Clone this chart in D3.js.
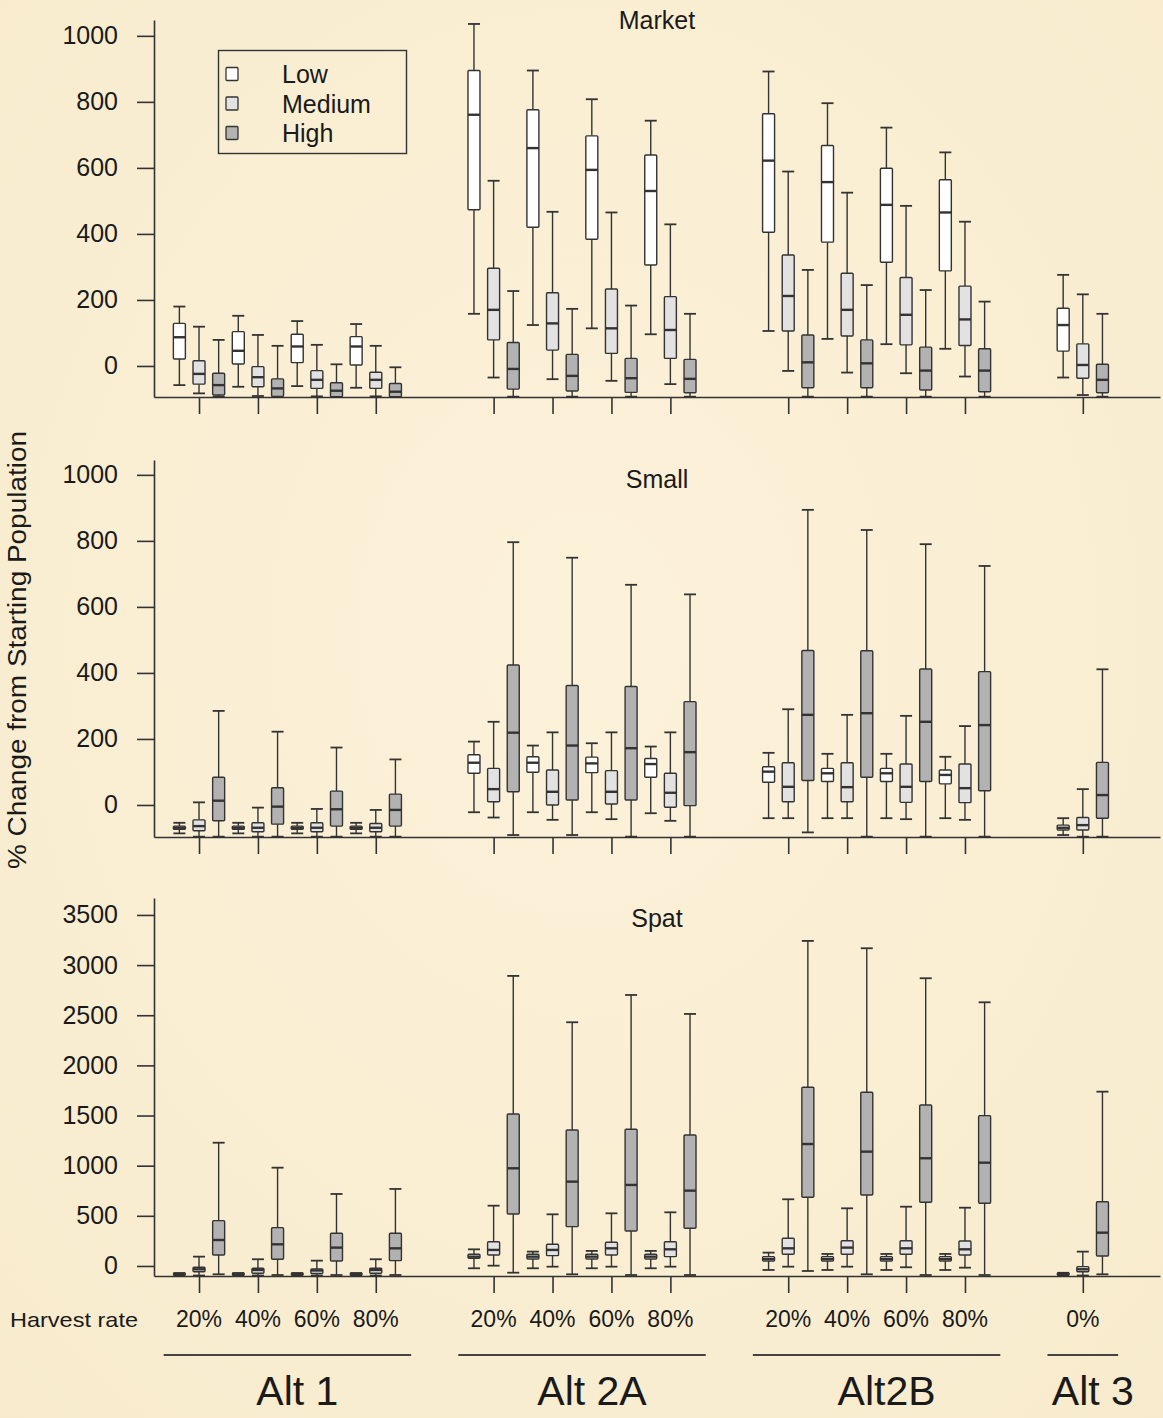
<!DOCTYPE html>
<html>
<head>
<meta charset="utf-8">
<script src="https://cdn.jsdelivr.net/npm/d3@7"></script>
<style>
  html, body { margin: 0; padding: 0; background: #faf0d6; }
  svg { display: block; }
  text { font-family: "Liberation Sans", Arial, Helvetica, sans-serif; fill: #1a1a1a; }
</style>
</head>
<body>
<svg id="chart" width="1163" height="1418"></svg>
<script>
// ---------------- DATA ----------------
const groups = ["Alt 1", "Alt 2A", "Alt2B", "Alt 3"];
const groupSlots = [4, 4, 4, 1];
const harvestLabels = ["20%", "40%", "60%", "80%", "20%", "40%", "60%", "80%", "20%", "40%", "60%", "80%", "0%"];
const seriesNames = ["Low", "Medium", "High"];
const seriesColors = ["#ffffff", "#e2e2e2", "#b2b2b2"];
const panelTitles = ["Market", "Small", "Spat"];
const marketTicks = [0, 200, 400, 600, 800, 1000];
const smallTicks = [0, 200, 400, 600, 800, 1000];
const spatTicks = [0, 500, 1000, 1500, 2000, 2500, 3000, 3500];

// each entry: [whisker low, Q1, median, Q3, whisker high]
const marketLow = [
  [-58, 21, 87, 129, 180], [-63, 6, 46, 104, 152], [-61, 10, 59, 96, 136], [-66, 3, 59, 89, 127],
  [158, 473, 761, 895, 1036], [124, 420, 660, 776, 895], [114, 384, 594, 697, 808], [96, 306, 530, 639, 743],
  [106, 405, 622, 764, 892], [82, 375, 557, 668, 796], [66, 314, 488, 599, 722], [52, 288, 465, 564, 647],
  [-35, 45, 124, 175, 276]
];
const marketMedium = [
  [-83, -55, -24, 16, 119], [-91, -63, -34, -2, 94], [-92, -68, -42, -14, 64], [-92, -68, -42, -19, 61],
  [-35, 79, 170, 296, 561], [-40, 48, 129, 222, 467], [-45, 38, 114, 233, 465], [-55, 23, 109, 210, 429],
  [-15, 106, 212, 336, 589], [-20, 91, 170, 281, 525], [-22, 64, 155, 268, 485], [-32, 62, 141, 242, 437],
  [-88, -37, 3, 67, 217]
];
const marketHigh = [
  [-93, -88, -58, -22, 79], [-94, -92, -68, -39, 61], [-94, -93, -75, -51, 5], [-94, -93, -78, -53, -4],
  [-93, -70, -9, 71, 227], [-93, -76, -30, 35, 173], [-93, -80, -37, 23, 183], [-93, -81, -39, 20, 158],
  [-93, -66, 11, 94, 291], [-93, -66, 8, 79, 245], [-93, -73, -14, 57, 230], [-93, -78, -14, 52, 195],
  [-93, -81, -42, 5, 158]
];
const smallLow = [
  [-86, -74, -69, -64, -54], [-86, -74, -69, -64, -54], [-86, -74, -69, -64, -54], [-86, -74, -69, -64, -54],
  [-22, 96, 128, 152, 192], [-22, 99, 128, 146, 180], [-22, 98, 126, 145, 187], [-25, 84, 124, 141, 177],
  [-40, 69, 101, 116, 158], [-40, 71, 96, 111, 155], [-40, 71, 96, 111, 155], [-40, 64, 91, 106, 146],
  [-91, -76, -69, -61, -40]
];
const smallMedium = [
  [-96, -78, -64, -45, 8], [-96, -81, -69, -54, -8], [-96, -81, -69, -54, -12], [-96, -81, -69, -56, -15],
  [-38, 10, 48, 111, 252], [-45, 0, 40, 106, 220], [-43, 3, 40, 104, 220], [-48, -7, 37, 96, 220],
  [-40, 10, 55, 128, 290], [-40, 10, 54, 128, 273], [-43, 8, 55, 124, 270], [-45, 7, 51, 124, 239],
  [-96, -76, -61, -38, 48]
];
const smallHigh = [
  [-96, -48, 13, 84, 285], [-96, -58, -5, 52, 222], [-96, -64, -13, 42, 174], [-96, -64, -15, 33, 138],
  [-91, 40, 219, 424, 796], [-91, 15, 180, 362, 749], [-96, 15, 172, 359, 667], [-96, -2, 160, 313, 638],
  [-83, 74, 273, 468, 894], [-96, 84, 278, 467, 833], [-96, 71, 252, 412, 790], [-96, 43, 242, 404, 724],
  [-96, -40, 30, 129, 411]
];
const spatLow = [
  [-92, -85, -80, -76, -70], [-92, -85, -80, -76, -70], [-92, -85, -80, -76, -70], [-92, -85, -80, -76, -70],
  [-23, 77, 93, 117, 166], [-23, 70, 93, 117, 143], [-23, 70, 93, 117, 150], [-23, 70, 93, 117, 150],
  [-40, 50, 70, 93, 133], [-40, 50, 70, 93, 120], [-40, 50, 70, 93, 120], [-40, 50, 70, 93, 120],
  [-95, -85, -80, -75, -68]
];
const spatMedium = [
  [-95, -57, -33, -13, 93], [-95, -73, -40, -23, 67], [-95, -75, -45, -30, 53], [-95, -73, -40, -23, 67],
  [3, 110, 160, 242, 601], [-7, 103, 160, 216, 515], [-7, 110, 176, 236, 525], [-7, 93, 166, 242, 535],
  [-7, 117, 176, 276, 665], [-7, 117, 183, 252, 575], [-13, 117, 176, 252, 591], [-17, 110, 166, 249, 581],
  [-95, -57, -33, -7, 143]
];
const spatHigh = [
  [-83, 110, 259, 452, 1229], [-90, 67, 216, 382, 980], [-90, 50, 183, 326, 718], [-90, 53, 176, 326, 768],
  [-67, 518, 974, 1516, 2892], [-83, 392, 841, 1356, 2430], [-90, 349, 808, 1363, 2702], [-90, 376, 751, 1306, 2513],
  [-50, 685, 1216, 1782, 3241], [-83, 708, 1140, 1732, 3168], [-90, 635, 1074, 1605, 2869], [-90, 625, 1030, 1499, 2629],
  [-83, 100, 332, 641, 1738]
];

// ---------------- LAYOUT ----------------
const svg = d3.select("#chart");
const W = 1163, H = 1418;
const ink = "#333";

// subtle parchment background
const defs = svg.append("defs");
const rg = defs.append("radialGradient").attr("id", "bg").attr("cx", "50%").attr("cy", "45%").attr("r", "75%");
rg.append("stop").attr("offset", "0%").attr("stop-color", "#fcf2da");
rg.append("stop").attr("offset", "100%").attr("stop-color", "#f8ebcd");
svg.append("rect").attr("width", W).attr("height", H).attr("fill", "url(#bg)");

// x in "slot units": slot k of group g sits at k + g (one empty slot between groups)
const slotUnits = [];
groups.forEach((g, gi) => {
  const start = d3.sum(groupSlots.slice(0, gi));
  for (let k = 0; k < groupSlots[gi]; k++) slotUnits.push(start + k + gi);
});
const x = d3.scaleLinear().domain([-0.764, 16.31]).range([154, 1160]);
const seriesOffset = 1 / 3; // in slot units
const boxW = 12;

const panels = [
  { title: panelTitles[0], series: [marketLow, marketMedium, marketHigh], ticks: marketTicks, domain: [-94, 1048], range: [397, 20], titleY: 29 },
  { title: panelTitles[1], series: [smallLow, smallMedium, smallHigh], ticks: smallTicks, domain: [-97, 1045], range: [837, 460], titleY: 488 },
  { title: panelTitles[2], series: [spatLow, spatMedium, spatHigh], ticks: spatTicks, domain: [-100, 3669], range: [1276, 898], titleY: 927 }
];

panels.forEach(p => {
  const y = d3.scaleLinear().domain(p.domain).range(p.range);
  const g = svg.append("g");

  // y axis
  const ya = g.append("g").attr("transform", `translate(${x.range()[0]},0)`)
    .call(d3.axisLeft(y).tickValues(p.ticks).tickSize(17).tickSizeOuter(0).tickPadding(19).tickFormat(d3.format("d")));
  ya.selectAll("path.domain").attr("stroke", ink).attr("stroke-width", 1.6);
  ya.selectAll(".tick line").attr("stroke", ink).attr("stroke-width", 1.6);
  ya.selectAll(".tick text").attr("font-size", 25).attr("fill", "#1a1a1a")
    .attr("font-family", "'Liberation Sans', Arial, sans-serif");

  // x axis
  const xa = g.append("g").attr("transform", `translate(0,${p.range[0]})`)
    .call(d3.axisBottom(x).tickValues(slotUnits).tickSize(17).tickSizeOuter(0).tickFormat(""));
  xa.selectAll("path.domain").attr("stroke", ink).attr("stroke-width", 1.6);
  xa.selectAll(".tick line").attr("stroke", ink).attr("stroke-width", 1.6);

  // title
  g.append("text").attr("x", 657).attr("y", p.titleY).attr("text-anchor", "middle")
    .attr("font-size", 25).text(p.title);

  // boxes
  p.series.forEach((data, si) => {
    data.forEach((d, i) => {
      const cx = x(slotUnits[i] + (si - 1) * seriesOffset);
      const [lo, q1, med, q3, hi] = d;
      const bg = g.append("g").attr("stroke", ink).attr("stroke-width", 1.4);
      bg.append("line").attr("x1", cx).attr("x2", cx).attr("y1", y(q3)).attr("y2", y(hi));
      bg.append("line").attr("x1", cx).attr("x2", cx).attr("y1", y(q1)).attr("y2", y(lo));
      bg.append("line").attr("x1", cx - boxW / 2).attr("x2", cx + boxW / 2).attr("y1", y(hi)).attr("y2", y(hi)).attr("stroke-width", 1.8);
      bg.append("line").attr("x1", cx - boxW / 2).attr("x2", cx + boxW / 2).attr("y1", y(lo)).attr("y2", y(lo)).attr("stroke-width", 1.8);
      bg.append("rect").attr("x", cx - boxW / 2).attr("width", boxW)
        .attr("y", y(q3)).attr("height", Math.max(1, y(q1) - y(q3)))
        .attr("fill", seriesColors[si]).attr("rx", 1);
      bg.append("line").attr("x1", cx - boxW / 2).attr("x2", cx + boxW / 2).attr("y1", y(med)).attr("y2", y(med)).attr("stroke-width", 2.4);
    });
  });
});

// legend
const lg = svg.append("g");
lg.append("rect").attr("x", 218.5).attr("y", 50.5).attr("width", 188).attr("height", 103)
  .attr("fill", "none").attr("stroke", ink).attr("stroke-width", 1.4);
seriesNames.forEach((s, i) => {
  const cy = 74 + i * 29.5;
  lg.append("rect").attr("x", 226).attr("y", cy - 6.5).attr("width", 12).attr("height", 13)
    .attr("fill", seriesColors[i]).attr("stroke", ink).attr("stroke-width", 1.3).attr("rx", 1);
  lg.append("text").attr("x", 282).attr("y", cy + 9).attr("font-size", 25).text(s);
});

// y title
svg.append("text").attr("transform", "translate(26,650) rotate(-90)").attr("text-anchor", "middle")
  .attr("font-size", 25).attr("textLength", 438).attr("lengthAdjust", "spacingAndGlyphs")
  .text("% Change from Starting Population");

// bottom labels
const labY = 1327;
svg.append("text").attr("x", 10).attr("y", labY).attr("font-size", 21)
  .attr("textLength", 128).attr("lengthAdjust", "spacingAndGlyphs").text("Harvest rate");
harvestLabels.forEach((t, i) => {
  svg.append("text").attr("x", x(slotUnits[i])).attr("y", labY).attr("text-anchor", "middle")
    .attr("font-size", 23).text(t);
});
let idx = 0;
groups.forEach((gname, gi) => {
  const first = slotUnits[idx], last = slotUnits[idx + groupSlots[gi] - 1];
  idx += groupSlots[gi];
  const x1 = x(first - 0.6), x2 = x(last + 0.6);
  svg.append("line").attr("x1", x1).attr("x2", x2).attr("y1", 1355).attr("y2", 1355)
    .attr("stroke", "#444").attr("stroke-width", 2.2);
  svg.append("text").attr("x", (x1 + x2) / 2 + 10).attr("y", 1405).attr("text-anchor", "middle")
    .attr("font-size", 41).text(gname);
});
</script>
</body>
</html>
